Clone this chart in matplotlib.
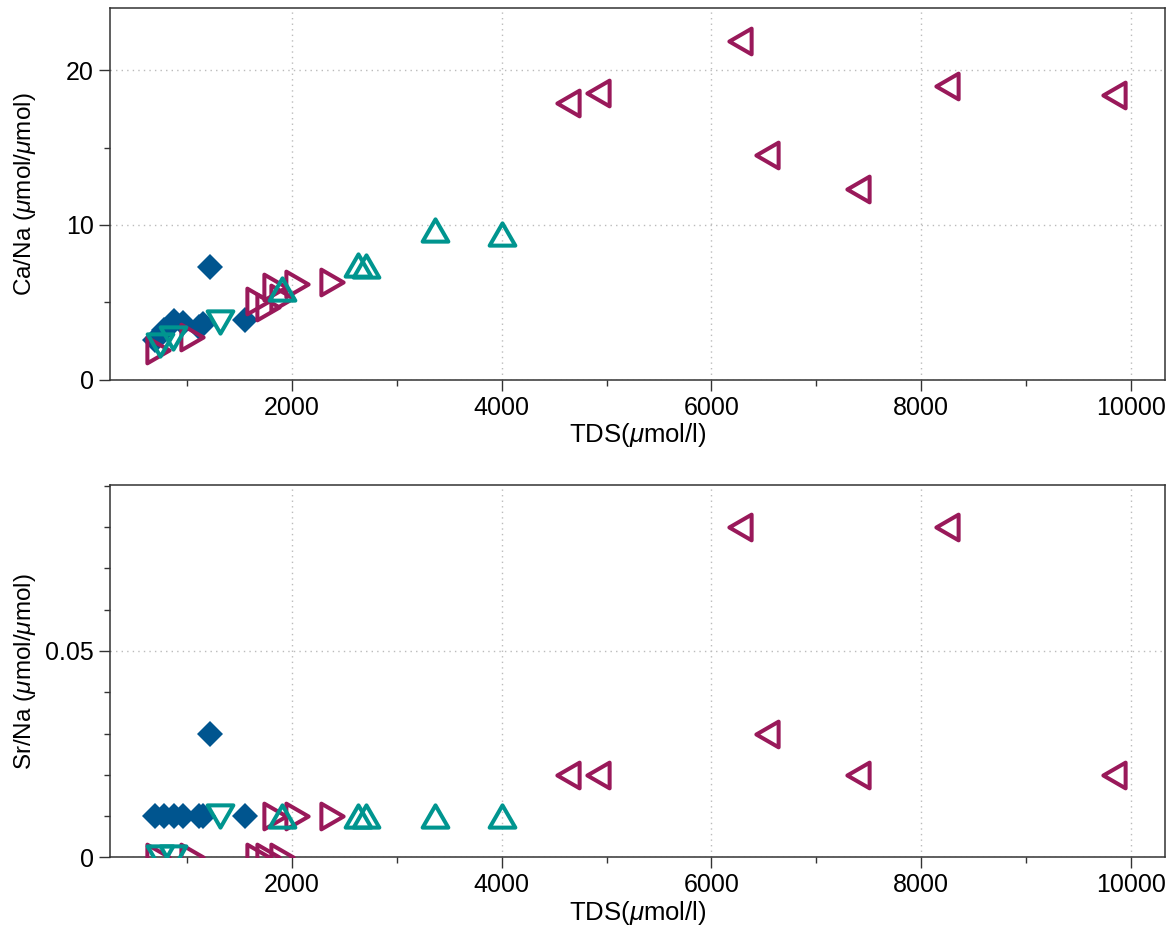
import matplotlib
matplotlib.use("Agg")
import matplotlib.pyplot as plt
from matplotlib.ticker import MultipleLocator
from matplotlib.path import Path

plt.rcParams['font.family'] = ['Liberation Sans', 'DejaVu Sans']
plt.rcParams['mathtext.fontset'] = 'custom'
plt.rcParams['mathtext.it'] = 'Liberation Sans:italic'
plt.rcParams['mathtext.rm'] = 'Liberation Sans'

# Series 1: blue filled diamonds
dia_tds = [690, 780, 870, 960, 1110, 1150, 1218, 1552]
dia_ca = [2.6, 3.2, 3.8, 3.7, 3.4, 3.6, 7.3, 3.9]
dia_sr = [0.01, 0.01, 0.01, 0.01, 0.01, 0.01, 0.03, 0.01]

# Series 2: magenta right-pointing triangles
rt_tds = [725, 1043, 1679, 1775, 1838, 1902, 2045, 2378]
rt_ca = [1.95, 2.8, 5.1, 4.7, 6.0, 5.3, 6.2, 6.35]
rt_sr = [0, 0, 0, 0, 0.01, 0, 0.01, 0.01]

# Series 3: teal down triangles
dn_tds = [741, 868, 1313]
dn_ca = [2.25, 2.7, 3.75]
dn_sr = [0, 0, 0.01]

# Series 4: teal up triangles
up_tds = [1905, 2632, 2705, 3363, 4000]
up_ca = [5.85, 7.45, 7.35, 9.7, 9.45]
up_sr = [0.01, 0.01, 0.01, 0.01, 0.01]

# Series 5: magenta left-pointing triangles
lt_tds = [4632, 4918, 6273, 6530, 7398, 8247, 9839]
lt_ca = [17.9, 18.5, 21.9, 14.5, 12.3, 19.0, 18.4]
lt_sr = [0.02, 0.02, 0.08, 0.03, 0.02, 0.08, 0.02]

blue = '#00558F'
mag = '#99195A'
teal = '#00958F'

# equilateral triangles centred on their bounding box
h = 0.866 / 2
tri_up = Path([(0, h), (-0.5, -h), (0.5, -h), (0, h)],
              [Path.MOVETO, Path.LINETO, Path.LINETO, Path.CLOSEPOLY])
tri_dn = Path([(0, -h), (-0.5, h), (0.5, h), (0, -h)],
              [Path.MOVETO, Path.LINETO, Path.LINETO, Path.CLOSEPOLY])
tri_rt = Path([(h, 0), (-h, 0.5), (-h, -0.5), (h, 0)],
              [Path.MOVETO, Path.LINETO, Path.LINETO, Path.CLOSEPOLY])
tri_lt = Path([(-h, 0), (h, 0.5), (h, -0.5), (-h, 0)],
              [Path.MOVETO, Path.LINETO, Path.LINETO, Path.CLOSEPOLY])

fig = plt.figure(figsize=(11.74, 9.32), dpi=100)
ax1 = fig.add_axes([0.0937, 0.5923, 0.8986, 0.3991])
ax2 = fig.add_axes([0.0937, 0.0801, 0.8986, 0.3995])

def draw(ax, key):
    vals = {
        'ca': (dia_ca, rt_ca, dn_ca, up_ca, lt_ca),
        'sr': (dia_sr, rt_sr, dn_sr, up_sr, lt_sr),
    }[key]
    ax.plot(dia_tds, vals[0], linestyle='none', marker='D', markersize=13.5,
            color=blue, markeredgewidth=0, zorder=3)
    kw = dict(linestyle='none', markersize=18.5, markerfacecolor='none',
              markeredgewidth=2.9, zorder=3)
    ax.plot(rt_tds, vals[1], marker=tri_rt, markeredgecolor=mag, **kw)
    ax.plot(dn_tds, vals[2], marker=tri_dn, markeredgecolor=teal, **kw)
    ax.plot(up_tds, vals[3], marker=tri_up, markeredgecolor=teal, **kw)
    ax.plot(lt_tds, vals[4], marker=tri_lt, markeredgecolor=mag, **kw)

draw(ax1, 'ca')
draw(ax2, 'sr')

for ax in (ax1, ax2):
    ax.set_xlim(264, 10326)
    ax.xaxis.set_major_locator(MultipleLocator(2000))
    ax.xaxis.set_minor_locator(MultipleLocator(1000))
    ax.grid(True, which='major', linestyle=(0, (1, 3)), color='#BBBBBB', linewidth=1.0)
    ax.set_axisbelow(True)
    ax.tick_params(which='major', direction='out', length=8, width=1, labelsize=18,
                   color='#333333', top=False, right=False)
    ax.tick_params(which='minor', direction='out', length=4, width=1,
                   color='#333333', top=False, right=False)
    for s in ax.spines.values():
        s.set_color('#333333')
        s.set_linewidth(1.1)
    ax.set_xlabel(r'TDS($\mu$mol/l)', fontsize=18.5, labelpad=1)

ax1.set_ylim(0, 24)
ax1.yaxis.set_major_locator(MultipleLocator(10))
ax1.yaxis.set_minor_locator(MultipleLocator(5))
ax1.set_ylabel(r'Ca/Na ($\mu$mol/$\mu$mol)', fontsize=17.5)

ax2.set_ylim(0, 0.0902)
ax2.yaxis.set_major_locator(MultipleLocator(0.05))
ax2.yaxis.set_minor_locator(MultipleLocator(0.01))
ax2.set_yticks([0, 0.05])
ax2.set_yticklabels(['0', '0.05'])
ax2.set_ylabel(r'Sr/Na ($\mu$mol/$\mu$mol)', fontsize=17.5)

for ax in (ax1, ax2):
    ax.yaxis.set_label_coords(-0.068, 0.5)

fig.savefig('out.png', dpi=100)
